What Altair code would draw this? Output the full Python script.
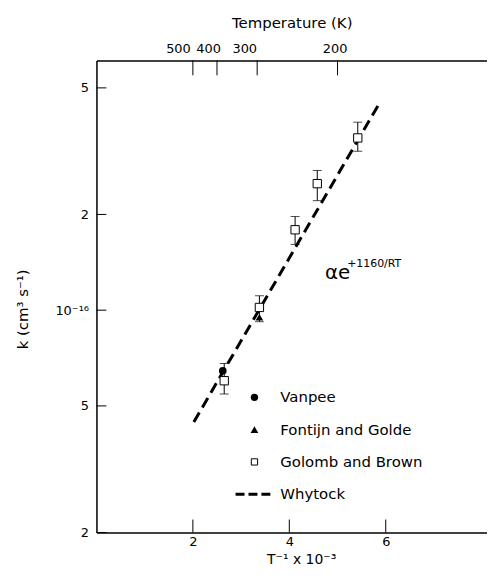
import altair as alt
import pandas as pd

# ---- data ----
golomb_x = [2.65, 3.38, 4.12, 4.58, 5.42]
golomb_k = [6.0e-17, 1.02e-16, 1.79e-16, 2.50e-16, 3.48e-16]
golomb_lo = [5.45e-17, 9.2e-17, 1.61e-16, 2.21e-16, 3.16e-16]
golomb_hi = [6.8e-17, 1.11e-16, 1.97e-16, 2.75e-16, 3.90e-16]
vanpee_x = [2.62]
vanpee_k = [6.45e-17]
fontijn_x = [3.38]
fontijn_k = [9.5e-17]
whytock_x = [2.02, 5.84]
whytock_k = [4.45e-17, 4.4e-16]

series_names = ["Vanpee", "Fontijn and Golde", "Golomb and Brown", "Whytock"]

x_tick_vals = [2, 4, 6]
y_tick_vals = [2e-17, 5e-17, 1e-16, 2e-16, 5e-16]
y_tick_labels = ["2", "5", "10\u207b\u00b9\u2076", "2", "5"]
temp_ticks = [500, 400, 300, 200]

annot_main = "\u03b1e"
annot_sup = "+1160/RT"

# ---- layout ----
W, H = 393, 475
FONT = "DejaVu Sans"
xs = alt.Scale(domain=[0, 8.1], nice=False, zero=False)
ys = alt.Scale(type="log", domain=[2e-17, 6.1e-16], nice=False)

golomb = pd.DataFrame({"x": golomb_x, "k": golomb_k})
vanpee = pd.DataFrame({"x": vanpee_x, "k": vanpee_k})
fontijn = pd.DataFrame({"x": fontijn_x, "k": fontijn_k})
err = pd.DataFrame({"x": golomb_x, "lo": golomb_lo, "hi": golomb_hi})
caps = pd.DataFrame({"x": golomb_x + golomb_x, "k": golomb_lo + golomb_hi})
line = pd.DataFrame({"x": whytock_x, "k": whytock_k})
yt = pd.DataFrame({"k": y_tick_vals})
xt = pd.DataFrame({"x": x_tick_vals})
tt = pd.DataFrame({"x": [1000.0 / t for t in temp_ticks]})
ann1 = pd.DataFrame({"x": [4.74], "k": [1.25e-16], "t": [annot_main]})
ann2 = pd.DataFrame({"x": [5.20], "k": [1.37e-16], "t": [annot_sup]})

lab_expr = "[" + ",".join("'%s'" % s for s in y_tick_labels) + "][indexof([" + \
    ",".join(repr(v) for v in y_tick_vals) + "], datum.value)]"

x_bottom_axis = alt.Axis(values=x_tick_vals, ticks=False, grid=False, domain=True,
                         domainColor="black", domainWidth=1.5, labelFont=FONT,
                         labelFontSize=13, labelColor="black", labelPadding=3,
                         title="T\u207b\u00b9 x 10\u207b\u00b3", titleFont=FONT,
                         titleFontSize=14, titleFontWeight="normal", titleColor="black",
                         titleX=206, titleY=27, titleBaseline="middle", orient="bottom")
y_axis = alt.Axis(values=y_tick_vals, labelExpr=lab_expr, ticks=False, grid=False,
                  domain=True, domainColor="black", domainWidth=1.5, labelFont=FONT,
                  labelFontSize=13, labelColor="black", labelPadding=8,
                  title="k (cm\u00b3 s\u207b\u00b9)", titleFont=FONT, titleFontSize=15,
                  titleFontWeight="normal", titleColor="black", titleX=-74, titleY=250,
                  titleBaseline="middle", titleAlign="center", orient="left")
x_top_axis = alt.Axis(values=[1000.0 / t for t in temp_ticks],
                      labelExpr="format(1000/datum.value, '.0f')", ticks=False, grid=False,
                      domain=True, domainColor="black", domainWidth=1.5, labelFont=FONT,
                      labelFontSize=13, labelColor="black", labelPadding=5,
                      labelOffset={"expr": "datum.value < 2.2 ? -15 : (datum.value < 3 ? -9 : (datum.value < 4 ? -13 : -3))"},
                      labelOverlap=False, labelBound=False,
                      title="Temperature (K)", titleFont=FONT,
                      titleFontSize=15, titleFontWeight="normal", titleColor="black",
                      titlePadding=12, orient="top")


def X(ax=None):
    return alt.X("x:Q", scale=xs, axis=ax)


def Y(field="k", ax=None):
    return alt.Y(field + ":Q", scale=ys, axis=ax)


errbars = alt.Chart(err).mark_rule(color="black", strokeWidth=1).encode(
    x=X(), y=Y("lo"), y2="hi:Q")
capm = alt.Chart(caps).mark_tick(color="black", orient="horizontal", size=9,
                                 thickness=1).encode(x=X(), y=Y())
wline = alt.Chart(line).mark_line(color="black", strokeWidth=3,
                                  strokeDash=[11, 6]).encode(x=X(), y=Y())
gpts = alt.Chart(golomb).mark_point(shape="square", size=70, fill="white",
                                    stroke="black", strokeWidth=1, opacity=1,
                                    filled=False).encode(
    x=X(x_bottom_axis), y=Y("k", y_axis))
vpts = alt.Chart(vanpee).mark_point(shape="circle", size=60, filled=True,
                                    color="black", opacity=1).encode(x=X(), y=Y())
fpts = alt.Chart(fontijn).mark_point(shape="triangle-up", size=60, filled=True,
                                     color="black", opacity=1).encode(x=X(), y=Y())
ytk = alt.Chart(yt).mark_rule(color="black", strokeWidth=1).encode(
    y=Y(), x=alt.value(0), x2=alt.value(10))
xtk = alt.Chart(xt).mark_rule(color="black", strokeWidth=1).encode(
    x=X(), y=alt.value(H), y2=alt.value(H - 13))
ttk = alt.Chart(tt).mark_rule(color="black", strokeWidth=1).encode(
    x=X(x_top_axis), y=alt.value(0), y2=alt.value(15))
a1 = alt.Chart(ann1).mark_text(font=FONT, fontSize=20, align="left",
                               baseline="alphabetic", color="black").encode(
    x=X(), y=Y(), text="t:N")
a2 = alt.Chart(ann2).mark_text(font=FONT, fontSize=11, align="left",
                               baseline="alphabetic", color="black").encode(
    x=X(), y=Y(), text="t:N")

# ---- hand-drawn legend (layout positions in pixels) ----
LX, LY0, LDY = 159, 339, 32.5
leg_df = pd.DataFrame({"name": series_names})
legend_layers = []
marks = [
    dict(shape="circle", size=55, filled=True, color="black"),
    dict(shape="triangle-up", size=60, filled=True, color="black"),
    dict(shape="square", size=40, filled=False, fill="white", stroke="black",
         strokeWidth=1),
]
for i, m in enumerate(marks):
    legend_layers.append(
        alt.Chart(leg_df.iloc[[i]]).mark_point(opacity=1, **m).encode(
            x=alt.value(LX), y=alt.value(LY0 + i * LDY)))
legend_layers.append(
    alt.Chart(leg_df.iloc[[3]]).mark_rule(color="black", strokeWidth=3,
                                          strokeDash=[9, 4]).encode(
        x=alt.value(LX - 19), x2=alt.value(LX + 16), y=alt.value(LY0 + 3 * LDY)))
for i in range(4):
    legend_layers.append(
        alt.Chart(leg_df.iloc[[i]]).mark_text(font=FONT, fontSize=15, align="left",
                                              baseline="middle", color="black").encode(
            x=alt.value(LX + 26), y=alt.value(LY0 + i * LDY), text="name:N"))

chart = alt.layer(errbars, capm, wline, gpts, vpts, fpts, ytk, xtk, ttk, a1, a2,
                  *legend_layers).resolve_axis(
    x="independent", y="independent"
).properties(
    width=W, height=H, autosize="none",
    padding={"left": 89, "top": 51, "right": 0, "bottom": 34},
    background="white",
).configure_view(stroke=None)

chart.save("out.html", embed_options={"renderer": "svg", "actions": False})
